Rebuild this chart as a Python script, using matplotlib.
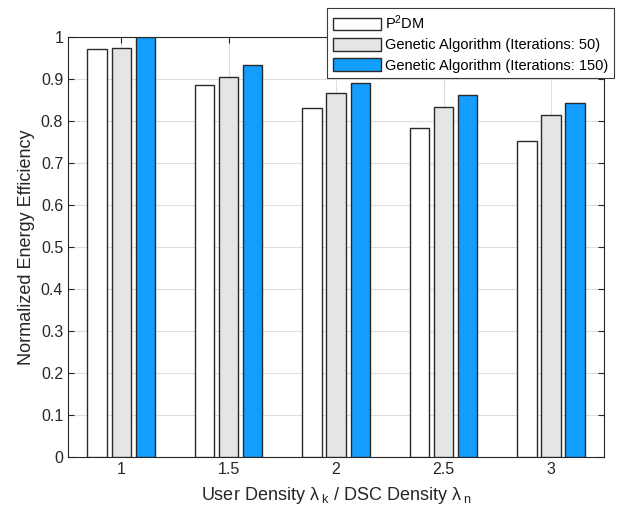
import numpy as np
import matplotlib
matplotlib.use('Agg')
import matplotlib.pyplot as plt

plt.rcParams['font.family'] = ['Liberation Sans', 'DejaVu Sans']
plt.rcParams['mathtext.fontset'] = 'custom'
plt.rcParams['mathtext.rm'] = 'Liberation Sans'
plt.rcParams['mathtext.it'] = 'Liberation Sans'

# data
density = [1, 1.5, 2, 2.5, 3]
p2dm = [0.971, 0.885, 0.831, 0.783, 0.752]
ga50 = [0.975, 0.905, 0.866, 0.833, 0.814]
ga150 = [1.0, 0.933, 0.890, 0.862, 0.844]
labels = ['P$^2$DM', 'Genetic Algorithm (Iterations: 50)', 'Genetic Algorithm (Iterations: 150)']
colors = ['white', '#e5e5e5', '#139dff']

fig = plt.figure(figsize=(6.19, 5.14), dpi=100)
ax = fig.add_axes([0.110, 0.111, 0.866, 0.817])

x = np.array(density)
width = 0.09
offset = 0.112
for i, (vals, lab, c) in enumerate(zip([p2dm, ga50, ga150], labels, colors)):
    ax.bar(x + (i - 1) * offset, vals, width=width, color=c, edgecolor='#2a2a2a',
           linewidth=1.0, label=lab, zorder=3)

ax.set_xlim(0.753, 3.247)
ax.set_ylim(0, 1)
ax.set_xticks(density)
ax.set_xticklabels(['1', '1.5', '2', '2.5', '3'])
ax.set_yticks(np.arange(0, 1.01, 0.1))
ax.set_yticklabels(['0', '0.1', '0.2', '0.3', '0.4', '0.5', '0.6', '0.7', '0.8', '0.9', '1'])
ax.grid(True, color='#dedede', linewidth=0.8, zorder=0)
ax.set_axisbelow(True)
ax.tick_params(direction='in', top=True, right=True, length=4, labelsize=11.5,
               color='#262626', labelcolor='#262626')
for s in ax.spines.values():
    s.set_color('#262626')
    s.set_linewidth(0.8)

ax.set_xlabel(r'User Density $\lambda_{\ k}$ / DSC Density $\lambda_{\ n}$', fontsize=13,
              color='#262626', labelpad=6)
ax.set_ylabel('Normalized Energy Efficiency', fontsize=13, color='#262626')

leg = fig.legend(loc='upper right', bbox_to_anchor=(0.992, 0.985), fontsize=10.5,
                 frameon=True, fancybox=False, edgecolor='#3a3a3a', framealpha=1,
                 handlelength=3.3, handleheight=0.95, handletextpad=0.3,
                 borderpad=0.38, labelspacing=0.42, borderaxespad=0)
leg.get_frame().set_linewidth(0.8)

fig.savefig('out.png', dpi=100)
